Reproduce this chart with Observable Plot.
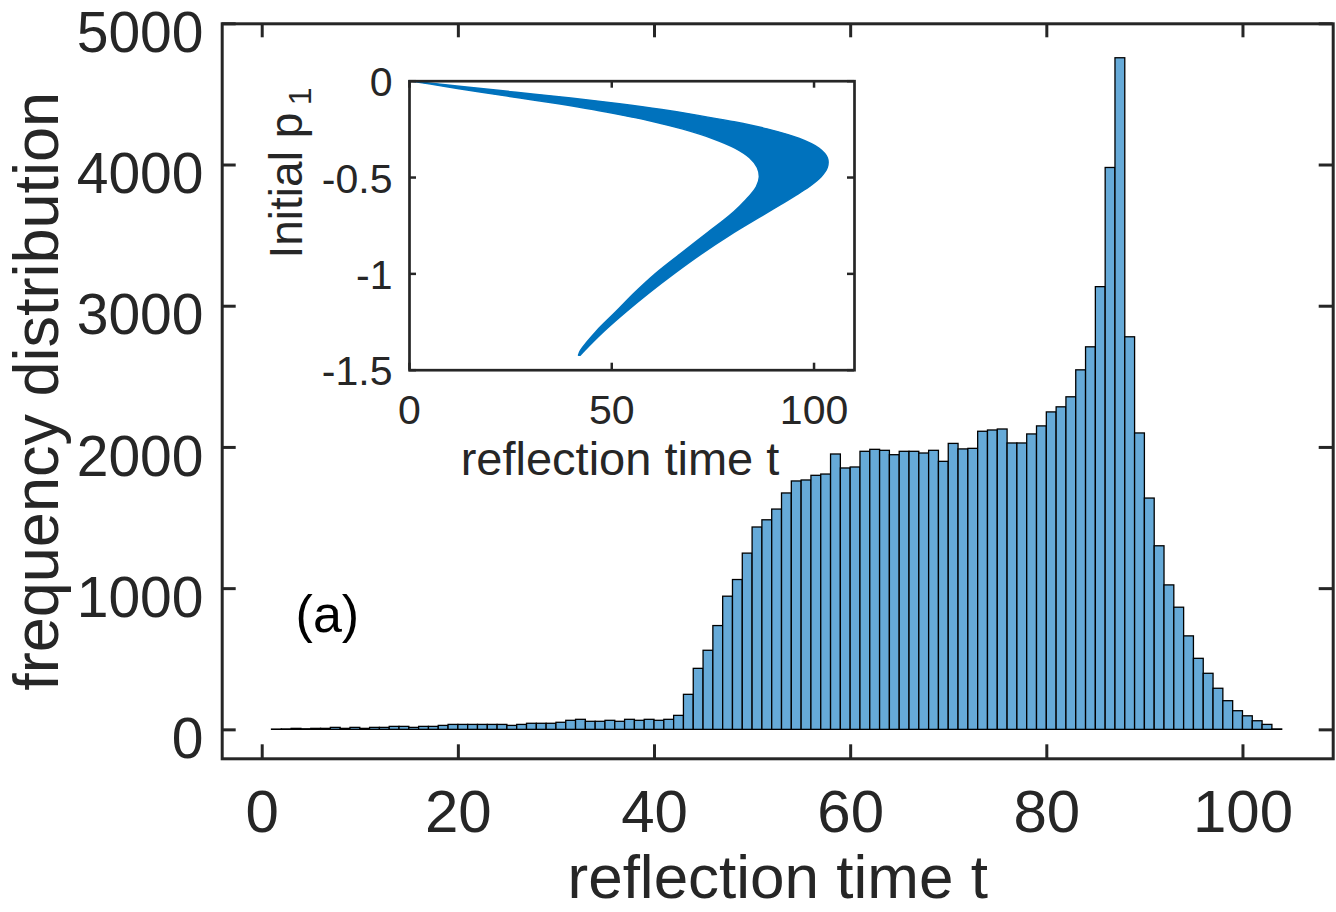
<!DOCTYPE html>
<html>
<head>
<meta charset="utf-8">
<script src="https://cdn.jsdelivr.net/npm/d3@7"></script>
<script src="https://cdn.jsdelivr.net/npm/@observablehq/plot@0.6"></script>
<style>
  html, body { margin: 0; padding: 0; background: #fff; overflow: hidden; }
  #chart { position: relative; width: 1336px; height: 912px; }
  #chart svg { display: block; }
  #inset { position: absolute; left: 250px; top: 60px; }
</style>
</head>
<body>
<div id="chart"><div id="main"></div><div id="inset"></div></div>
<script>
// ---------- main histogram data ----------
const binLeft = [1,2,3,4,5,6,7,8,9,10,11,12,13,14,15,16,17,18,19,20,21,22,23,24,25,26,27,28,29,30,
  31,32,33,34,35,36,37,38,39,40,41,42,43,44,45,46,47,48,49,50,51,52,53,54,55,56,57,58,59,60,
  61,62,63,64,65,66,67,68,69,70,71,72,73,74,75,76,77,78,79,80,81,82,83,84,85,86,87,88,89,90,
  91,92,93,94,95,96,97,98,99,100,101,102,103];
const binWidth = 1;
const counts = [2,3,7,4,7,7,14,7,14,7,14,14,21,21,14,21,21,28,35,35,35,35,35,35,28,35,43,43,43,50,
  64,71,57,57,64,57,71,64,71,64,71,99,248,432,560,735,943,1061,1248,1433,
  1484,1560,1674,1759,1766,1799,1808,1950,1851,1858,1969,1983,1976,1945,1969,1969,1957,1976,1898,2025,
  1986,1990,2111,2120,2127,2028,2028,2092,2149,2248,2284,2355,2546,2709,3135,3979,4756,2780,2099,1638,
  1300,1023,865,662,503,397,291,203,132,96,61,35,3];
const xTicks = [0, 20, 40, 60, 80, 100];
const yTicks = [0, 1000, 2000, 3000, 4000, 5000];
const xLabel = "reflection time t";
const yLabel = "frequency distribution";
const panelTag = [{t: 3.4, count: 810, text: "(a)"}];

// ---------- inset data: band of (reflection time, initial p1) ----------
const insetP1   = [0, -0.03, -0.06, -0.09, -0.12, -0.15, -0.18, -0.21, -0.25, -0.3, -0.35, -0.4, -0.45,
                   -0.5, -0.55, -0.6, -0.65, -0.7, -0.8, -0.9, -1.0, -1.1, -1.2, -1.3, -1.4, -1.425];
const insetTMin = [0, 9.0, 18.0, 27.5, 37.0, 45.5, 53.0, 60.0, 67.5, 75.0, 80.6, 84.2, 86.1,
                   86.6, 85.9, 84.1, 81.8, 79.2, 73.1, 67.0, 61.0, 55.8, 51.1, 46.3, 42.4, 41.9];
const insetTMax = [0, 13.0, 26.5, 40.0, 52.0, 62.5, 71.5, 79.5, 88.5, 96.5, 101.3, 103.4, 103.4,
                   101.8, 98.9, 95.2, 91.3, 87.3, 79.4, 72.2, 65.6, 59.4, 53.6, 48.2, 43.4, 42.3];
const insetXTicks = [0, 50, 100];
const insetYTicks = [0, -0.5, -1, -1.5];
const insetXLabel = "reflection time t";
const insetYLabel = "Initial p";
const insetYSub = "1";

// ---------- build tables ----------
const bins = counts.map((c, i) => ({x0: binLeft[i], x1: binLeft[i] + binWidth, count: c}));
const band = insetP1.map((p, i) => ({p, tmin: insetTMin[i], tmax: insetTMax[i]}));

const FONT = "'Liberation Sans', Arial, Helvetica, sans-serif";
const AXC = "#262626";

// main frame geometry
const mL = 221.7, mR = 3.3, mT = 23.3, mB = 153.7;
const fW = 1336 - mL - mR, fH = 912 - mT - mB;
const tick = 14;

const mainPlot = Plot.plot({
  width: 1336, height: 912,
  marginLeft: mL, marginRight: mR, marginTop: mT, marginBottom: mB,
  x: {domain: [-4.08, 109.2]},
  y: {domain: [-205, 5000]},
  style: {fontFamily: FONT, color: AXC, background: "white", overflow: "visible"},
  marks: [
    Plot.rectY(bins, {x1: "x0", x2: "x1", y: "count", fill: "#66AAD8", stroke: "#000", strokeWidth: 1.3}),
    Plot.tickX(xTicks, {x: d => d, stroke: AXC, strokeWidth: 3, insetTop: fH - tick}),
    Plot.tickX(xTicks, {x: d => d, stroke: AXC, strokeWidth: 3, insetBottom: fH - tick}),
    Plot.tickY(yTicks, {y: d => d, stroke: AXC, strokeWidth: 3, insetRight: fW - tick}),
    Plot.tickY(yTicks, {y: d => d, stroke: AXC, strokeWidth: 3, insetLeft: fW - tick}),
    Plot.frame({stroke: AXC, strokeWidth: 3}),
    Plot.axisX({ticks: xTicks, tickSize: 0, tickPadding: 31, fontSize: 60, label: null, tickFormat: d => String(d), fill: AXC}),
    Plot.axisY({ticks: yTicks, tickSize: 0, tickPadding: 18.7, fontSize: 57, label: null, tickFormat: d => String(d), fill: AXC, dy: 10}),
    Plot.text([xLabel], {text: d => d, frameAnchor: "bottom", textAnchor: "middle", lineAnchor: "middle", dy: 119.5, fontSize: 62, fill: AXC}),
    Plot.text([yLabel], {text: d => d, frameAnchor: "left", rotate: -90, textAnchor: "middle", lineAnchor: "middle", dx: -184, fontSize: 63, fill: AXC}),
    Plot.text(panelTag, {x: "t", y: "count", text: "text", textAnchor: "start", lineAnchor: "middle", fontSize: 52, fill: "#000"})
  ]
});
document.getElementById("main").appendChild(mainPlot);

// inset geometry (inset svg placed at left 250, top 60)
const iL = 159, iR = 16, iT = 20.7, iB = 120.3;
const iW = 620, iH = 430;
const ifW = iW - iL - iR, ifH = iH - iT - iB;
const itick = 7;

const insetPlot = Plot.plot({
  width: iW, height: iH,
  marginLeft: iL, marginRight: iR, marginTop: iT, marginBottom: iB,
  x: {domain: [0, 110]},
  y: {domain: [-1.5, 0]},
  style: {fontFamily: FONT, color: AXC, background: "transparent", overflow: "visible"},
  marks: [
    Plot.frame({fill: "white"}),
    Plot.areaX(band, {y: "p", x1: "tmin", x2: "tmax", fill: "#0072BD", stroke: "#0072BD", strokeWidth: 1.5, curve: "catmull-rom"}),
    Plot.tickX(insetXTicks, {x: d => d, stroke: AXC, strokeWidth: 2.5, insetTop: ifH - itick}),
    Plot.tickX(insetXTicks, {x: d => d, stroke: AXC, strokeWidth: 2.5, insetBottom: ifH - itick}),
    Plot.tickY(insetYTicks, {y: d => d, stroke: AXC, strokeWidth: 2.5, insetRight: ifW - itick}),
    Plot.tickY(insetYTicks, {y: d => d, stroke: AXC, strokeWidth: 2.5, insetLeft: ifW - itick}),
    Plot.frame({stroke: AXC, strokeWidth: 2.7}),
    Plot.axisX({ticks: insetXTicks, tickSize: 0, tickPadding: 25, fontSize: 41, label: null, tickFormat: d => String(d), fill: AXC}),
    Plot.axisY({ticks: insetYTicks, tickSize: 0, tickPadding: 17, fontSize: 41, label: null, tickFormat: d => String(d), fill: AXC, dy: 2}),
    Plot.text([insetXLabel], {text: d => d, frameAnchor: "bottom", textAnchor: "middle", lineAnchor: "middle", dx: -12, dy: 90, fontSize: 47, fill: AXC}),
    Plot.text([insetYLabel], {text: d => d, frameAnchor: "left", rotate: -90, textAnchor: "start", lineAnchor: "middle", dx: -122.7, dy: 32.8, fontSize: 46, fill: AXC}),
    Plot.text([insetYSub], {text: d => d, frameAnchor: "left", rotate: -90, textAnchor: "start", lineAnchor: "middle", dx: -109.2, dy: -120.5, fontSize: 32, fill: AXC})
  ]
});
document.getElementById("inset").appendChild(insetPlot);
</script>
</body>
</html>
